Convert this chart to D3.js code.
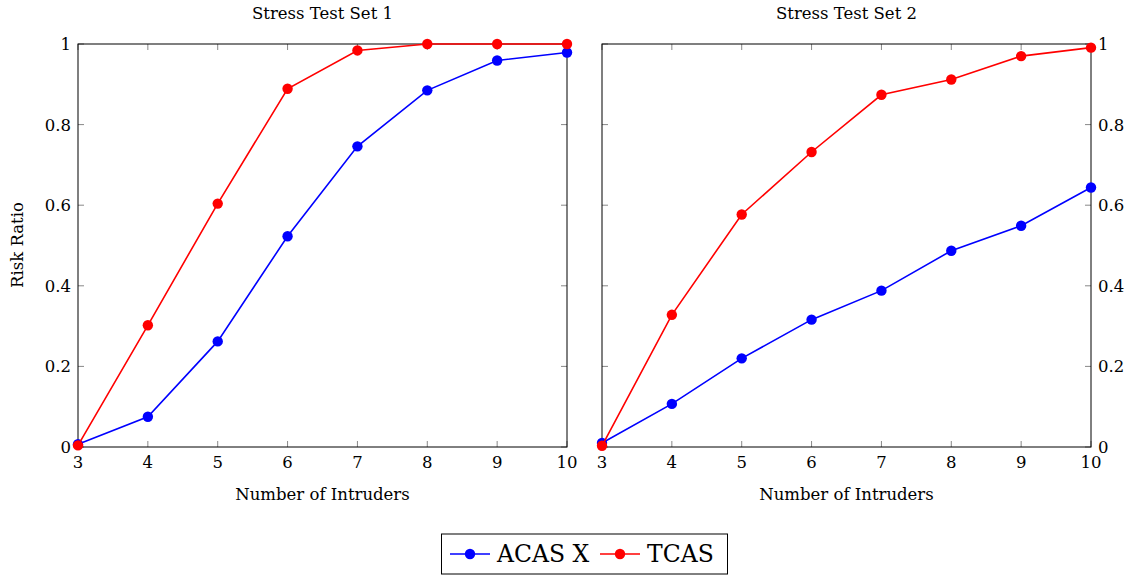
<!DOCTYPE html>
<html>
<head>
<meta charset="utf-8">
<script src="https://cdn.jsdelivr.net/npm/d3@7"></script>
<style>
  body { margin: 0; background: #fff; }
  svg { display: block; font-family: "DejaVu Serif", "Liberation Serif", serif; }
</style>
</head>
<body>
<svg width="1133" height="575"></svg>
<script>
const intruders = [3, 4, 5, 6, 7, 8, 9, 10];
const yTicks = [0, 0.2, 0.4, 0.6, 0.8, 1];

// Stress Test Set 1
const acasSet1 = [0.007, 0.075, 0.262, 0.523, 0.746, 0.885, 0.959, 0.979];
const tcasSet1 = [0.004, 0.302, 0.604, 0.889, 0.984, 1.0, 1.0, 1.0];
// Stress Test Set 2
const acasSet2 = [0.010, 0.107, 0.220, 0.316, 0.388, 0.487, 0.549, 0.644];
const tcasSet2 = [0.003, 0.328, 0.577, 0.732, 0.874, 0.912, 0.970, 0.991];

const seriesNames = ['ACAS X', 'TCAS'];
const seriesColors = ['#0000ff', '#ff0000'];

const svg = d3.select('svg');
const TOP = 44, BOTTOM = 447;
const FS = 16.5;

function drawPanel(left, right, title, data, labelsOnRight) {
  const x = d3.scaleLinear().domain([3, 10]).range([left, right]);
  const y = d3.scaleLinear().domain([0, 1]).range([BOTTOM, TOP]);
  const g = svg.append('g');

  // ticks (inward, mirrored)
  const tickColor = '#888';
  intruders.forEach(v => {
    g.append('line').attr('x1', x(v)).attr('x2', x(v)).attr('y1', BOTTOM).attr('y2', BOTTOM - 6).attr('stroke', tickColor);
    g.append('line').attr('x1', x(v)).attr('x2', x(v)).attr('y1', TOP).attr('y2', TOP + 6).attr('stroke', tickColor);
    g.append('text').attr('x', x(v)).attr('y', BOTTOM + 21).attr('text-anchor', 'middle')
      .attr('font-size', FS).text(v);
  });
  yTicks.forEach(v => {
    g.append('line').attr('x1', left).attr('x2', left + 6).attr('y1', y(v)).attr('y2', y(v)).attr('stroke', tickColor);
    g.append('line').attr('x1', right).attr('x2', right - 6).attr('y1', y(v)).attr('y2', y(v)).attr('stroke', tickColor);
    const t = g.append('text').attr('y', y(v) + 6).attr('font-size', FS).text(d3.format('~g')(v));
    if (labelsOnRight) t.attr('x', right + 7).attr('text-anchor', 'start');
    else t.attr('x', left - 7).attr('text-anchor', 'end');
  });

  g.append('rect').attr('x', left).attr('y', TOP).attr('width', right - left).attr('height', BOTTOM - TOP)
    .attr('fill', 'none').attr('stroke', '#000').attr('stroke-width', 1);

  const line = d3.line().x((d, i) => x(intruders[i])).y(d => y(d));
  data.forEach((vals, k) => {
    g.append('path').datum(vals).attr('d', line).attr('fill', 'none')
      .attr('stroke', seriesColors[k]).attr('stroke-width', 1.6);
    g.selectAll(null).data(vals).enter().append('circle')
      .attr('cx', (d, i) => x(intruders[i])).attr('cy', d => y(d)).attr('r', 5.2)
      .attr('fill', seriesColors[k]);
  });

  g.append('text').attr('x', (left + right) / 2).attr('y', 19).attr('text-anchor', 'middle')
    .attr('font-size', FS).text(title);
  g.append('text').attr('x', (left + right) / 2).attr('y', 500).attr('text-anchor', 'middle')
    .attr('font-size', FS).text('Number of Intruders');
}

drawPanel(78, 567, 'Stress Test Set 1', [acasSet1, tcasSet1], false);
drawPanel(602, 1091, 'Stress Test Set 2', [acasSet2, tcasSet2], true);

svg.append('text').attr('transform', 'translate(23,245) rotate(-90)').attr('text-anchor', 'middle')
  .attr('font-size', FS).text('Risk Ratio');

// legend
const lg = svg.append('g');
lg.append('rect').attr('x', 441.5).attr('y', 534).attr('width', 286).attr('height', 40)
  .attr('fill', '#fff').attr('stroke', '#000').attr('stroke-width', 1);
const legendX = [450, 600];
seriesNames.forEach((name, k) => {
  const lx = legendX[k];
  lg.append('line').attr('x1', lx).attr('x2', lx + 40).attr('y1', 554).attr('y2', 554)
    .attr('stroke', seriesColors[k]).attr('stroke-width', 1.6);
  lg.append('circle').attr('cx', lx + 20).attr('cy', 554).attr('r', 5.2).attr('fill', seriesColors[k]);
  lg.append('text').attr('x', lx + 47).attr('y', 562).attr('font-size', 23.5).text(name);
});
</script>
</body>
</html>
